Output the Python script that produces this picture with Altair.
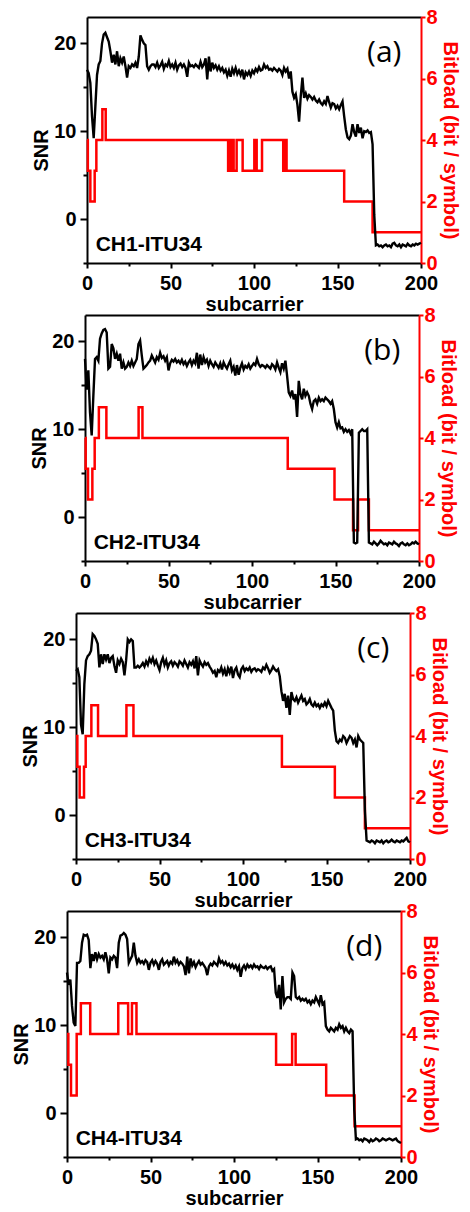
import altair as alt
import pandas as pd

# ---------------- data ----------------
subcarrier_ticks = [0, 50, 100, 150, 200]
subcarrier_minor = [25, 75, 125, 175]
snr_ticks = [0, 10, 20]
snr_minor = [-5, 5, 15]
bit_ticks = [0, 2, 4, 6, 8]

channel_names = ["CH1-ITU34", "CH2-ITU34", "CH3-ITU34", "CH4-ITU34"]
panel_tags = ["(a)", "(b)", "(c)", "(d)"]
channel_label_pos = [5.2, -2.9]
tag_pos = [178, 18.9]

snr_a = [
    17.0, 16.6, 15.5, 11.7, 9.2, 12.8, 16.4, 17.6, 18.0, 20.0,
    21.0, 21.2, 20.7, 20.2, 19.1, 17.8, 18.7, 17.6, 19.1, 17.4,
    18.3, 17.8, 18.5, 17.4, 16.1, 17.4, 17.2, 17.6, 17.4, 17.8,
    17.2, 18.5, 20.9, 20.4, 20.0, 19.8, 17.4, 17.0, 17.4, 17.6,
    17.6, 17.3, 17.8, 17.2, 17.5, 17.9, 17.1, 17.6, 17.4, 18.0,
    17.3, 17.6, 17.2, 17.8, 17.0, 17.5, 17.7, 17.3, 17.6, 17.2,
    16.2, 17.8, 17.4, 17.5, 17.3, 17.6, 17.4, 17.2, 17.9, 17.3,
    17.6, 18.3, 15.9, 18.5, 16.8, 17.8, 17.2, 17.5, 17.0, 17.4,
    16.9, 17.2, 16.7, 17.0, 16.3, 16.9, 16.2, 17.1, 16.6, 17.2,
    16.5, 16.9, 16.4, 17.0, 15.9, 16.7, 16.4, 16.8, 16.3, 16.9,
    16.6, 17.1, 16.8, 17.3, 16.9, 17.0, 17.6, 17.2, 17.4, 17.0,
    17.1, 16.9, 17.2, 17.0, 16.8, 17.1, 16.9, 16.4, 17.2, 16.8,
    17.1, 16.0, 16.8, 14.5, 13.8, 14.2, 13.0, 11.1, 14.0, 16.1,
    13.8, 14.3, 13.7, 14.1, 13.9, 13.6, 13.9, 13.5, 13.3, 13.6,
    13.2, 13.0, 13.4, 13.1, 14.0, 13.3, 12.7, 13.2, 13.1, 12.6,
    12.9, 12.5, 13.0, 13.4, 11.7, 10.2, 9.3, 9.1, 9.5, 10.8,
    9.9, 9.4, 10.8, 9.8, 10.4, 9.2, 10.0, 9.9, 10.1, 9.8,
    9.9, 8.5, 0.5, -3.0, -2.9, -3.1, -3.0, -3.2, -3.0, -2.9,
    -3.1, -3.0, -3.2, -2.8, -2.7, -3.0, -3.1, -2.9, -3.2, -2.9,
    -3.0, -3.1, -2.8, -3.0, -3.1, -2.9, -3.0, -2.8, -2.9, -2.8,
    -2.7,
]
snr_b = [
    18.0, 14.5, 16.7, 11.9, 9.3, 13.8, 18.0, 18.2, 17.8, 20.3,
    20.9, 21.3, 21.4, 21.0, 16.9, 17.1, 19.7, 19.2, 18.0, 18.6,
    17.8, 18.6, 16.9, 17.6, 16.9, 17.1, 17.6, 17.2, 17.8, 17.2,
    17.6, 18.0, 19.7, 20.1, 18.4, 16.9, 17.1, 17.3, 17.6, 17.8,
    18.4, 18.0, 17.6, 18.2, 17.9, 18.7, 18.1, 18.3, 17.8, 18.2,
    16.7, 17.5, 17.9, 17.7, 18.0, 17.6, 17.8, 17.5, 17.9, 17.4,
    17.7, 17.2, 17.6, 17.9, 17.3, 17.8, 17.5, 18.7, 16.9, 18.5,
    17.3, 18.2, 17.6, 17.9, 17.2, 17.8, 17.4, 17.1, 17.6, 17.3,
    17.0, 17.5, 16.8, 17.6, 17.2, 16.9, 17.4, 17.8, 16.7, 17.1,
    16.1, 17.3, 16.2, 17.0, 17.5, 16.8, 17.2, 17.0, 17.4, 16.9,
    17.2, 17.5, 17.3, 18.0, 17.4, 17.1, 17.3, 17.2, 17.0, 17.3,
    17.1, 16.9, 17.4, 17.2, 16.8, 17.6, 17.0, 16.5, 17.5, 16.9,
    17.8, 16.1, 14.2, 13.8, 14.4, 13.4, 14.0, 11.4, 15.5, 14.0,
    13.4, 14.6, 13.8, 14.2, 13.8, 12.9, 12.3, 13.2, 13.4, 12.9,
    13.6, 13.2, 13.4, 13.2, 13.6, 13.4, 13.2, 12.9, 13.2, 12.3,
    10.8, 10.2, 10.8, 10.1, 10.2, 9.7, 10.0, 9.7, 9.9, 9.5,
    10.0, -2.9, -3.0, -2.9, 9.6, 9.8, 10.0, 9.8, 9.8, 10.0,
    -2.9, -3.0, -3.1, -2.8, -3.0, -3.2, -3.0, -2.7, -2.9, -3.1,
    -3.0, -3.2, -2.9, -3.0, -3.1, -2.8, -3.0, -3.1, -3.3, -3.0,
    -2.9, -3.1, -3.2, -3.0, -3.2, -3.1, -2.9, -3.0, -2.8, -3.0,
    -3.1,
]
snr_c = [
    16.4, 16.6, 15.7, 10.3, 9.2, 14.9, 17.6, 18.1, 18.3, 18.7,
    20.6, 20.4, 20.0, 19.5, 16.8, 18.3, 17.2, 18.3, 17.7, 18.3,
    17.3, 17.9, 18.1, 17.0, 16.2, 17.6, 17.2, 17.8, 17.4, 15.9,
    17.6, 20.0, 19.7, 20.0, 19.8, 16.8, 16.8, 17.0, 16.8, 17.0,
    17.3, 16.9, 17.5, 17.1, 17.8, 17.4, 17.9, 17.2, 17.6, 17.0,
    16.5, 17.4, 17.9, 17.1, 17.6, 16.8, 17.3, 17.5, 17.0, 17.4,
    17.2, 16.9, 17.5, 17.3, 17.0, 17.6, 17.2, 16.8, 17.4, 17.1,
    17.5, 16.7, 18.1, 15.9, 17.6, 17.2, 16.9, 17.4, 17.1, 17.3,
    16.9, 16.6, 16.2, 16.4, 15.7, 16.5, 16.3, 16.8, 16.1, 16.6,
    15.8, 16.7, 16.2, 16.9, 15.6, 16.5, 16.8, 16.0, 15.7, 16.6,
    16.9, 16.4, 16.7, 16.5, 16.8, 16.3, 16.6, 16.7, 16.4, 16.6,
    16.5, 16.3, 16.8, 16.6, 17.1, 16.7, 16.2, 16.5, 16.9, 16.6,
    16.4, 16.6, 15.8, 14.1, 13.0, 13.8, 12.2, 13.6, 11.4, 14.0,
    13.2, 13.0, 13.4, 12.8, 13.2, 13.6, 13.0, 13.2, 12.6, 12.8,
    13.2, 12.6, 12.4, 12.8, 12.4, 12.6, 12.2, 12.6, 12.4, 12.8,
    12.4, 13.0, 12.6, 12.2, 11.9, 9.6, 8.4, 8.2, 8.6, 8.4,
    9.0, 8.8, 8.2, 8.6, 9.0, 8.8, 8.2, 8.6, 7.7, 9.0,
    8.6, 8.4, 8.2, 0.5, -2.9, -3.0, -3.1, -2.9, -3.0, -3.2,
    -2.9, -3.0, -3.1, -2.9, -3.2, -3.0, -2.9, -3.1, -3.0, -2.8,
    -3.0, -3.1, -2.9, -3.0, -3.1, -2.9, -3.0, -2.8, -2.6, -3.0,
    -3.1,
]
snr_d = [
    16.0, 14.6, 15.2, 12.2, 10.3, 9.9, 17.1, 17.1, 17.3, 19.4,
    20.3, 20.2, 20.3, 19.7, 16.5, 18.1, 17.3, 18.3, 17.5, 18.1,
    17.7, 17.9, 17.5, 18.3, 17.5, 15.9, 17.7, 17.5, 17.9, 17.7,
    16.5, 19.4, 20.2, 20.3, 20.5, 20.3, 19.8, 17.1, 17.5, 17.9,
    19.4, 17.9, 17.1, 17.5, 17.1, 17.3, 17.0, 17.4, 17.2, 16.3,
    17.1, 17.4, 16.9, 17.3, 17.0, 16.3, 17.2, 17.5, 16.9, 17.1,
    17.3, 16.8, 17.2, 17.0, 17.8, 17.1, 17.4, 16.9, 17.2, 17.0,
    16.7, 15.7, 17.8, 15.9, 17.6, 16.8, 17.2, 16.6, 17.0, 17.3,
    16.9, 17.1, 16.8, 16.5, 15.7, 16.7, 17.0, 16.8, 17.2, 17.0,
    16.8, 17.6, 17.1, 17.3, 16.9, 17.2, 16.8, 17.0, 16.6, 16.9,
    16.5, 16.8, 16.3, 16.7, 15.5, 16.5, 16.8, 16.4, 16.9, 16.6,
    16.8, 16.5, 16.9, 16.6, 16.7, 16.4, 16.8, 16.6, 16.5, 16.7,
    16.4, 16.6, 16.7, 16.2, 16.4, 13.7, 13.1, 14.6, 11.8, 15.6,
    12.6, 13.0, 13.2, 13.2, 13.0, 16.0, 15.6, 13.2, 13.0, 13.2,
    12.8, 13.0, 12.8, 13.0, 12.6, 12.8, 12.4, 12.8, 12.6, 13.2,
    12.8, 12.4, 13.4, 12.4, 12.6, 9.9, 9.5, 9.3, 9.7, 9.5,
    9.3, 9.7, 9.5, 10.1, 9.7, 9.9, 9.3, 9.7, 9.3, 9.1,
    9.5, 9.3, 0.4, -3.0, -2.9, -3.1, -3.0, -3.2, -2.9, -3.0,
    -3.1, -3.3, -3.0, -3.2, -3.1, -2.9, -3.0, -3.2, -3.1, -2.9,
    -3.0, -3.1, -3.0, -2.9, -3.0, -3.1, -3.0, -2.9, -3.2, -3.3,
    -3.4,
]

# bitload as change points (subcarrier where a new level starts, level)
bit_a_x = [0, 0.5, 2, 4.6, 5.6, 9.2, 11.2, 84.5, 85.5, 86.3, 87, 87.8, 89.6, 93.2,
           100.2, 101.6, 104.8, 117.5, 118.5, 119.5, 154, 171, 200]
bit_a_v = [4, 3, 2, 3, 4, 5, 4, 3, 4, 3, 4, 3, 4, 3,
           4, 3, 4, 3, 4, 3, 2, 1, 1]
bit_b_x = [0, 0.4, 1.8, 4.4, 5.8, 8.3, 12.8, 32.1, 34.4, 121.4, 149.4, 160.5, 163.5, 170, 200]
bit_b_v = [4, 3, 2, 3, 4, 5, 4, 5, 4, 3, 2, 1, 2, 1, 1]
bit_c_x = [0, 0.8, 2.2, 4.8, 5.8, 9.2, 13.2, 30.2, 34.4, 123.3, 155, 173, 200]
bit_c_v = [4, 3, 2, 3, 4, 5, 4, 5, 4, 3, 2, 1, 1]
bit_d_x = [0, 0.8, 2.4, 5.8, 8.3, 13.9, 30.7, 36.6, 38.9, 41.6, 125.2, 134.8, 136.9, 155.2, 172.2, 200]
bit_d_v = [4, 3, 2, 4, 5, 4, 5, 4, 5, 4, 3, 4, 3, 2, 1, 1]

# ---------------- styling ----------------
W, H = 334, 246
FONT = "Liberation Sans"
RED = "#ff0000"
BASE_LEFT = 63                 # fixed left extent reserved inside each panel
row_shift = [21, 19, 10, 1]    # extra horizontal shift of each panel

common_axis = dict(
    labelFont=FONT, labelFontSize=20, labelFontWeight="bold",
    titleFont=FONT, titleFontSize=20, titleFontWeight="bold",
    grid=False, domainWidth=2, tickWidth=2, labelFlush=False, format="d",
)


def panel(snr, bx, bv, name, tag):
    df = pd.DataFrame({"s": list(range(len(snr))), "snr": snr})
    bdf = pd.DataFrame({"s": bx, "bit": bv})
    lab = pd.DataFrame({"x": [channel_label_pos[0]], "y": [channel_label_pos[1]], "t": [name]})
    tg = pd.DataFrame({"x": [tag_pos[0]], "y": [tag_pos[1]], "t": [tag]})
    one = pd.DataFrame({"k": [0]})

    xs = alt.Scale(domain=[0, 200], nice=False, zero=False)
    ys = alt.Scale(domain=[-5, 23], nice=False, zero=False)
    bs = alt.Scale(domain=[0, 8], nice=False)

    bit = alt.Chart(bdf).mark_line(color=RED, strokeWidth=2.5, interpolate="step-after").encode(
        x=alt.X("s:Q", scale=xs, axis=None),
        y=alt.Y("bit:Q", scale=bs, axis=alt.Axis(
            orient="right", values=bit_ticks, title="Bitload (bit / symbol)",
            tickSize=4, labelPadding=1, titlePadding=2,
            domainColor=RED, tickColor=RED, labelColor=RED, titleColor=RED,
            **common_axis)),
    )
    line = alt.Chart(df).mark_line(color="black", strokeWidth=2.4).encode(
        x=alt.X("s:Q", scale=xs, axis=alt.Axis(
            orient="bottom", values=subcarrier_ticks, title="subcarrier",
            tickSize=5, labelPadding=5, titlePadding=1,
            domainColor="black", tickColor="black", labelColor="black", titleColor="black",
            **common_axis)),
        y=alt.Y("snr:Q", scale=ys, axis=alt.Axis(
            orient="left", values=snr_ticks, title="SNR",
            tickSize=7, labelPadding=4, titlePadding=2, titleY=H / 2 + 10,
            domainColor="black", tickColor="black", labelColor="black", titleColor="black",
            **common_axis)),
    )
    minor = alt.Chart(df).mark_line(opacity=0).encode(
        x=alt.X("s:Q", scale=xs, axis=alt.Axis(
            orient="bottom", values=subcarrier_minor, labels=False, title=None,
            tickSize=3, tickWidth=2, tickColor="black", domain=False, grid=False)),
        y=alt.Y("snr:Q", scale=ys, axis=alt.Axis(
            orient="left", values=snr_minor, labels=False, title=None,
            tickSize=4, tickWidth=2, tickColor="black", domain=False, grid=False)),
    )
    top = alt.Chart(df).mark_line(opacity=0).encode(
        x=alt.X("s:Q", scale=xs, axis=alt.Axis(
            orient="top", labels=False, ticks=False, title=None,
            domainColor="black", domainWidth=2, grid=False)),
        y=alt.Y("snr:Q", scale=ys, axis=None),
    )
    ch = alt.Chart(lab).mark_text(
        align="left", baseline="middle", font=FONT, fontSize=21, fontWeight="bold", color="black"
    ).encode(
        x=alt.X("x:Q", scale=xs, axis=None),
        y=alt.Y("y:Q", scale=ys, axis=None),
        text="t:N",
    )
    tt = alt.Chart(tg).mark_text(
        align="center", baseline="middle", font="Open Sans", fontSize=30, color="black"
    ).encode(
        x=alt.X("x:Q", scale=xs, axis=None),
        y=alt.Y("y:Q", scale=ys, axis=None),
        text="t:N",
    )
    spacer = alt.Chart(one).mark_rule(opacity=0).encode(
        x=alt.value(-BASE_LEFT), x2=alt.value(-BASE_LEFT),
        y=alt.value(20), y2=alt.value(40),
    )
    return (
        alt.layer(bit, line, minor, top, ch, tt, spacer)
        .resolve_scale(y="independent")
        .resolve_axis(x="independent", y="independent")
        .properties(width=W, height=H)
    )


def shifter(w):
    one = pd.DataFrame({"k": [0]})
    return alt.Chart(one).mark_rule(opacity=0).encode(
        x=alt.value(0), x2=alt.value(w), y=alt.value(0)
    ).properties(width=w, height=H)


series = [
    (snr_a, bit_a_x, bit_a_v),
    (snr_b, bit_b_x, bit_b_v),
    (snr_c, bit_c_x, bit_c_v),
    (snr_d, bit_d_x, bit_d_v),
]

rows = []
for i, (snr, bx, bv) in enumerate(series):
    p = panel(snr, bx, bv, channel_names[i], panel_tags[i])
    rows.append(alt.hconcat(shifter(row_shift[i]), p, spacing=0))

chart = (
    alt.vconcat(*rows, spacing=-12)
    .properties(padding={"left": 0, "top": 6, "right": 4, "bottom": 0}, background="white")
    .configure_view(stroke="transparent")
)

chart.save("out.html", embed_options={"renderer": "svg", "actions": False})
